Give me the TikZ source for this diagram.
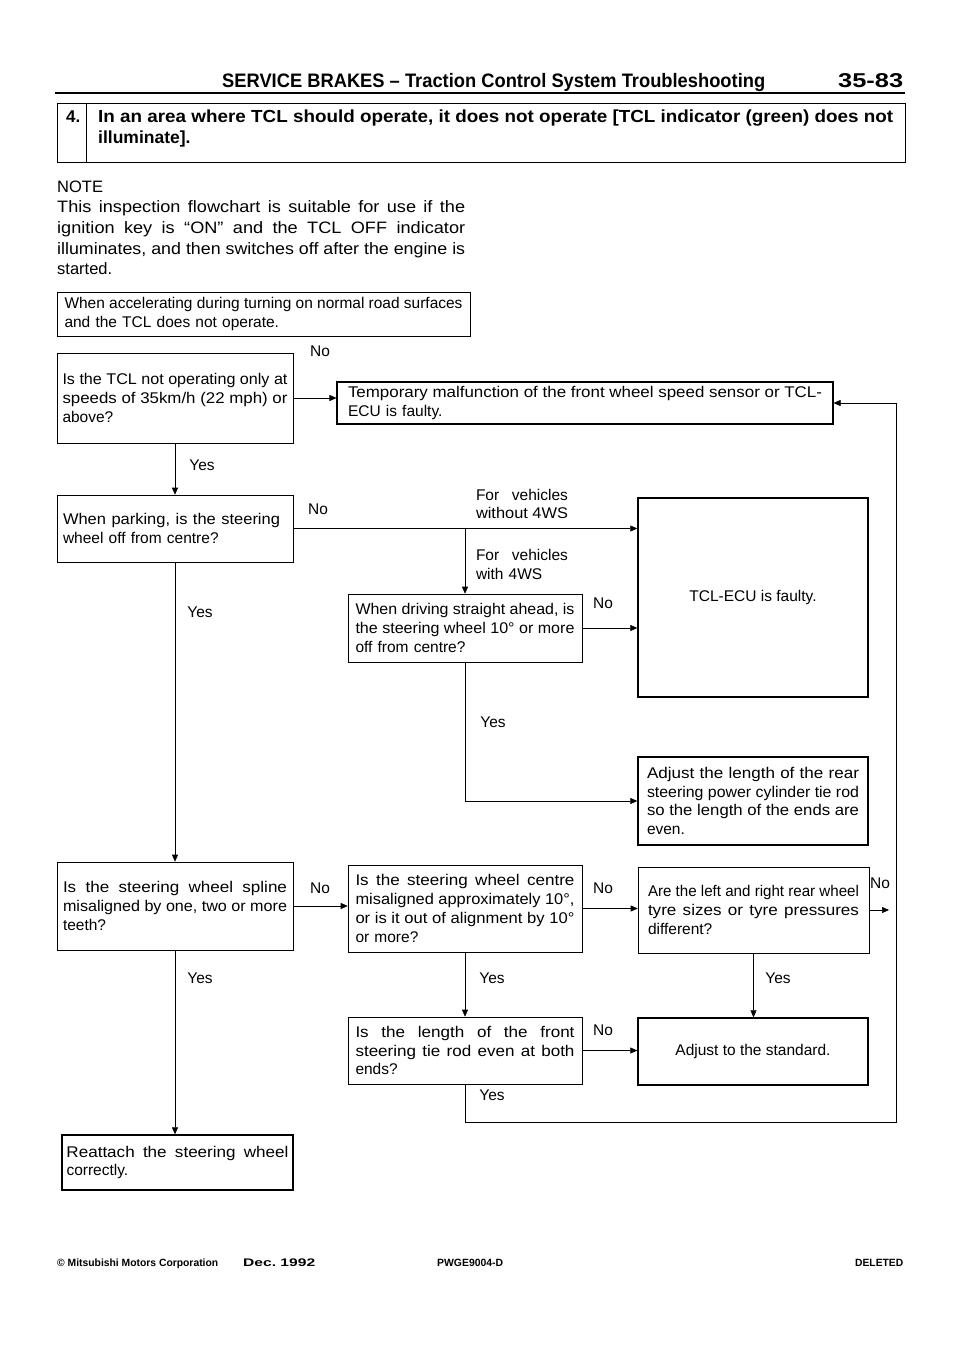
\documentclass[tikz,border=0pt]{standalone}
\usepackage{fontspec}
\setmainfont{Liberation Sans}
\usepackage{graphicx}
\usetikzlibrary{arrows.meta}
\newsavebox\jbox
\newlength\jdim
\newcommand\jj[1]{\sbox\jbox{\spaceskip=0pt\xspaceskip=0pt #1}%
  \ifdim\wd\jbox>\linewidth\resizebox{\linewidth}{\height}{\usebox\jbox}%
  \else
    \setlength\jdim{\dimexpr\linewidth*100/110\relax}%
    \ifdim\wd\jbox>\jdim\setlength\jdim{\wd\jbox}\fi
    \resizebox{\linewidth}{\height}{\makebox[\jdim][s]{\spaceskip=0pt\xspaceskip=0pt #1}}%
  \fi}
\newcommand\sj[1]{\makebox[\linewidth][s]{\spaceskip=0pt\xspaceskip=0pt #1}}
\newcommand\fitw[2]{\resizebox{#1}{\height}{#2}}
\newcommand\bodyf{\fontsize{15.5}{18.8}\selectfont}
\begin{document}
\begin{tikzpicture}[x=1pt,y=-1pt,
  qbox/.style={draw, line width=0.6pt, inner sep=0pt, align=left, font=\bodyf},
  rbox/.style={qbox, line width=1.4pt},
  lbl/.style={font=\bodyf, inner sep=0pt},
  conn/.style={line width=0.6pt},
  arr/.style={conn, -{Triangle[length=7pt,width=6pt]}}]
\fill[white] (0,0) rectangle (960,1358);
\useasboundingbox (0,0) rectangle (960,1358);

% header
\node[anchor=base west, inner sep=0pt, font=\fontsize{19.5}{22}\selectfont\bfseries] (hdr) at (222,87)
  {\fitw{543pt}{SERVICE BRAKES -- Traction Control System Troubleshooting}};
\node[anchor=base west, inner sep=0pt, font=\fontsize{20}{22}\selectfont\bfseries] (pg) at (838,87)
  {\fitw{65pt}{35-83}};
\coordinate (rulel) at (55,93);
\coordinate (ruler) at (905,93);
\draw[line width=2.5pt] (rulel) -- (ruler);

% title box
\node[draw, line width=0.8pt, minimum width=848, minimum height=59, inner sep=0pt] (title) at (481,132.5) {};
\draw[line width=0.8pt] ([xshift=30pt]title.north west) -- ([xshift=30pt]title.south west);
\node[anchor=base west, inner sep=0pt, font=\fontsize{17}{21}\selectfont\bfseries] (four) at (66,122) {4.};
\node[anchor=base west, inner sep=0pt, text width=795, align=left, font=\fontsize{17.5}{21}\selectfont\bfseries] (ttxt) at (98,122)
  {\jj{In an area where TCL should operate, it does not operate [TCL indicator (green) does not}\\illuminate].};

% note
\node[anchor=base west, inner sep=0pt, text width=408, align=left, font=\fontsize{16.5}{20.7}\selectfont] (note) at (57,192)
  {NOTE\\\jj{This inspection flowchart is suitable for use if the}\\\jj{ignition key is “ON” and the TCL OFF indicator}\\\jj{illuminates, and then switches off after the engine is}\\started.};

% boxes
\node[qbox, minimum width=413, minimum height=44, text width=398] (acc) at (263.5,314)
  {\jj{When accelerating during turning on normal road surfaces}\\and the TCL does not operate.};
\node[qbox, minimum width=236, minimum height=90, text width=225] (b1) at (175,398)
  {\jj{Is the TCL not operating only at}\\\jj{speeds of 35km/h (22 mph) or}\\above?};
\node[qbox, line width=1.1pt, minimum width=496, minimum height=42, text width=474] (temp) at (585,403)
  {\jj{Temporary malfunction of the front wheel speed sensor or TCL-}\\ECU is faulty.};
\node[qbox, minimum width=236, minimum height=67, text width=224] (park) at (175,528.5)
  {\fitw{217pt}{When parking, is the steering}\\wheel off from centre?};
\node[rbox, minimum width=230, minimum height=199, align=center] (tcl) at (753,597.5)
  {TCL-ECU is faulty.};
\node[qbox, minimum width=234, minimum height=68, text width=219] (drive) at (465,628)
  {\jj{When driving straight ahead, is}\\\jj{the steering wheel 10° or more}\\off from centre?};
\node[rbox, minimum width=230, minimum height=88, text width=212] (adjrear) at (753,801)
  {\jj{Adjust the length of the rear}\\\jj{steering power cylinder tie rod}\\\jj{so the length of the ends are}\\even.};
\node[qbox, minimum width=236, minimum height=88, text width=224] (spline) at (175,906)
  {\jj{Is the steering wheel spline}\\\jj{misaligned by one, two or more}\\teeth?};
\node[qbox, minimum width=234, minimum height=87, text width=219] (centre) at (465,908.5)
  {\jj{Is the steering wheel centre}\\\jj{misaligned approximately 10°,}\\\jj{or is it out of alignment by 10°}\\or more?};
\node[qbox, minimum width=231, minimum height=86, text width=211] (rear) at (753.5,910)
  {\jj{Are the left and right rear wheel}\\\jj{tyre sizes or tyre pressures}\\different?};
\node[qbox, minimum width=234, minimum height=67, text width=219] (front) at (465,1050.5)
  {\jj{Is the length of the front}\\\jj{steering tie rod even at both}\\ends?};
\node[rbox, minimum width=230, minimum height=67, align=center] (adjstd) at (753,1051.5)
  {Adjust to the standard.};
\node[rbox, minimum width=231, minimum height=55, text width=222] (reat) at (177.5,1162.5)
  {\jj{Reattach the steering wheel}\\correctly.};

% labels
\node[lbl] (no1) at (320,351) {No};
\node[lbl] (yes1) at (202,465) {Yes};
\node[lbl] (no2) at (318,509) {No};
\node[lbl, text width=92, align=left] (fv1) at (522,504) {\sj{For vehicles}\\\jj{without 4WS}};
\node[lbl, text width=92, align=left] (fv2) at (522,564.5) {\sj{For vehicles}\\with 4WS};
\node[lbl] (no3) at (603,603) {No};
\node[lbl] (yes2) at (493,722) {Yes};
\node[lbl] (yes3) at (200,612) {Yes};
\node[lbl] (no4) at (320,888) {No};
\node[lbl] (no5) at (603,888) {No};
\node[lbl] (no6) at (880,883) {No};
\node[lbl] (yes4) at (200,978) {Yes};
\node[lbl] (yes5) at (492,978) {Yes};
\node[lbl] (yes6) at (778,978) {Yes};
\node[lbl] (no7) at (603,1030) {No};
\node[lbl] (yes7) at (492,1095) {Yes};

% connectors
\draw[arr] (b1.east) -- (b1.east -| temp.west);
\draw[arr] (b1.south) -- (park.north);
\draw[arr] (park.east) -- (park.east -| tcl.west);
\coordinate (br) at (park.east -| drive.north);
\draw[arr] (br) -- (drive.north);
\draw[arr] (drive.east) -- (drive.east -| tcl.west);
\draw[arr] (drive.south) |- (adjrear.west);
\draw[arr] (park.south) -- (spline.north);
\draw[arr] (spline.east) -- (spline.east -| centre.west);
\draw[arr] (centre.east) -- (centre.east -| rear.west);
\coordinate (rtip) at (889,910);
\draw[arr] (rear.east) -- (rtip);
\draw[arr] (spline.south) -- (spline.south |- reat.north);
\draw[arr] (centre.south) -- (front.north);
\draw[arr] (rear.south) -- (rear.south |- adjstd.north);
\draw[arr] (front.east) -- (front.east -| adjstd.west);
\coordinate (bl) at (896,1122);
\draw[arr] (front.south) |- (bl) |- (temp.east);

% footer
\node[anchor=base west, inner sep=0pt, font=\fontsize{10.5}{12}\selectfont\bfseries] (f1) at (57,1266) {\fitw{161pt}{© Mitsubishi Motors Corporation}};
\node[anchor=base west, inner sep=0pt, font=\fontsize{11}{12}\selectfont\bfseries] (f2) at (243,1266) {\fitw{72pt}{Dec.\ 1992}};
\node[anchor=base west, inner sep=0pt, font=\fontsize{10.5}{12}\selectfont\bfseries] (f3) at (437,1266) {\fitw{66pt}{PWGE9004-D}};
\node[anchor=base west, inner sep=0pt, font=\fontsize{10.5}{12}\selectfont\bfseries] (f4) at (855,1266) {\fitw{48pt}{DELETED}};
\end{tikzpicture}
\end{document}
